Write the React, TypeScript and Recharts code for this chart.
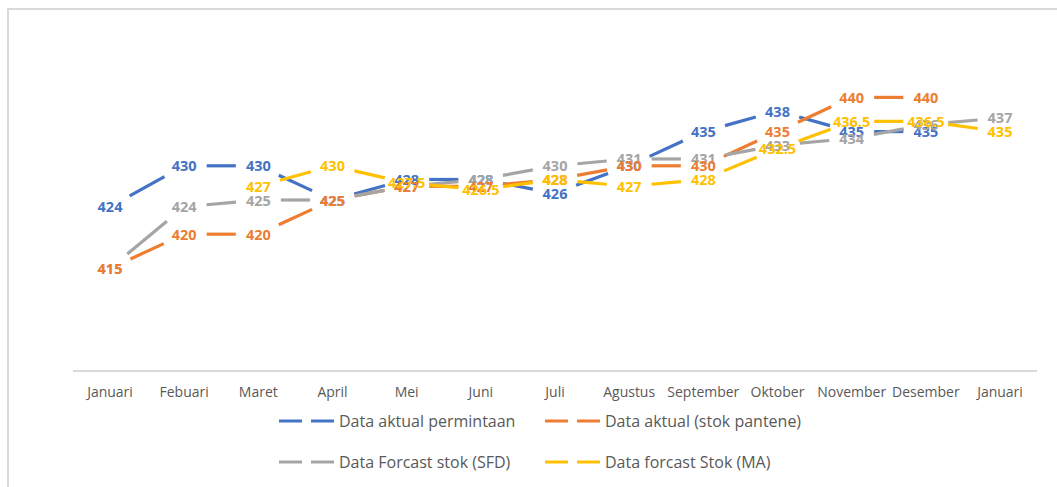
import { LineChart, Line, XAxis, YAxis, LabelList } from 'recharts'

const months = [
  'Januari', 'Febuari', 'Maret', 'April', 'Mei', 'Juni', 'Juli',
  'Agustus', 'September', 'Oktober', 'November', 'Desember', 'Januari',
]
const aktualPermintaan = [424, 430, 430, 425, 428, 428, 426, 430, 435, 438, 435, 435, null]
const aktualStok = [415, 420, 420, 425, 427, 427, 428, 430, 430, 435, 440, 440, null]
const forcastSfd = [415, 424, 425, 425, 427, 428, 430, 431, 431, 433, 434, 436, 437]
const forcastMa = [null, null, 427, 430, 427.5, 426.5, 428, 427, 428, 432.5, 436.5, 436.5, 435]

const series = [
  { key: 'permintaan', name: 'Data aktual permintaan', color: '#4472C4' },
  { key: 'stok', name: 'Data aktual (stok pantene)', color: '#ED7D31' },
  { key: 'sfd', name: 'Data Forcast stok (SFD)', color: '#A5A5A5' },
  { key: 'ma', name: 'Data forcast Stok (MA)', color: '#FFC000' },
]
// label drawing order (later ones sit on top)
const labelOrder = ['permintaan', 'sfd', 'stok', 'ma']

const data = months.map((month, i) => ({
  idx: `m${i}`,
  month,
  permintaan: aktualPermintaan[i],
  stok: aktualStok[i],
  sfd: forcastSfd[i],
  ma: forcastMa[i],
}))

const FONT = '"Open Sans", sans-serif'
const GAP = 22.5

// Excel long-dash look: one dash per segment, gap around each point
const segmentDot = (color: string) => (props: any) => {
  const { index, points, cx, cy } = props
  const next = points?.[index + 1]
  const k = `seg-${color}-${index}`
  if (cx == null || cy == null || !next || next.x == null || next.y == null) return <g key={k} />
  const dx = next.x - cx
  const dy = next.y - cy
  const len = Math.hypot(dx, dy)
  if (len <= GAP * 2) return <g key={k} />
  const ux = dx / len
  const uy = dy / len
  return (
    <line
      key={k}
      x1={cx + ux * GAP}
      y1={cy + uy * GAP}
      x2={next.x - ux * GAP}
      y2={next.y - uy * GAP}
      stroke={color}
      strokeWidth={3.2}
    />
  )
}

const valueLabel = (color: string) => (props: any) => {
  const { x, y, value, index } = props
  if (value == null || y == null) return null
  return (
    <text
      key={`lbl-${color}-${index}`}
      x={x}
      y={y}
      textAnchor="middle"
      dominantBaseline="central"
      fill={color}
      fontSize={14.5}
      fontWeight={700}
      fontFamily={FONT}
    >
      {value}
    </text>
  )
}

function LegendItem({ x, y, color, name }: { x: number; y: number; color: string; name: string }) {
  return (
    <div style={{ position: 'absolute', left: x, top: y - 11, height: 22, display: 'flex', alignItems: 'center' }}>
      <svg width={56} height={4} style={{ marginRight: 4 }}>
        <line x1={0} y1={2} x2={23} y2={2} stroke={color} strokeWidth={3} />
        <line x1={32} y1={2} x2={55} y2={2} stroke={color} strokeWidth={3} />
      </svg>
      <span style={{ fontFamily: FONT, fontSize: 16, color: '#595959', whiteSpace: 'nowrap' }}>{name}</span>
    </div>
  )
}

export default function App() {
  return (
    <div style={{ position: 'absolute', left: 0, top: 0, width: 1057, height: 487, overflow: 'hidden', background: '#fff' }}>
      <div
        style={{
          position: 'absolute',
          left: 7,
          top: 8,
          width: 1200,
          height: 600,
          borderTop: '2px solid #d9d9d9',
          borderLeft: '2px solid #d9d9d9',
        }}
      />
      <div style={{ position: 'absolute', left: 0, top: 0 }}>
        <LineChart width={1057} height={487} data={data} margin={{ top: 29, right: 20, bottom: 86, left: 73 }}>
          <XAxis
            dataKey="idx"
            type="category"
            padding={{ left: 37, right: 37 }}
            interval={0}
            tickLine={false}
            tickMargin={10}
            height={30}
            tickFormatter={(v: string) => months[Number(String(v).slice(1))]}
            axisLine={{ stroke: '#d9d9d9', strokeWidth: 2 }}
            tick={{ fill: '#595959', fontSize: 14, fontFamily: FONT }}
          />
          <YAxis hide type="number" domain={[400, 450]} />
          {series.map((s) => (
            <Line
              key={s.key}
              dataKey={s.key}
              name={s.name}
              stroke="none"
              dot={segmentDot(s.color)}
              activeDot={false}
              isAnimationActive={false}
              legendType="none"
            />
          ))}
          {labelOrder.map((k) => {
            const s = series.find((d) => d.key === k)!
            return (
              <Line
                key={`lbl-${k}`}
                dataKey={k}
                stroke="none"
                dot={false}
                activeDot={false}
                isAnimationActive={false}
                legendType="none"
              >
                <LabelList dataKey={k} content={valueLabel(s.color)} />
              </Line>
            )
          })}
        </LineChart>
      </div>
      <LegendItem x={279} y={421} color={series[0].color} name={series[0].name} />
      <LegendItem x={545} y={421} color={series[1].color} name={series[1].name} />
      <LegendItem x={279} y={462} color={series[2].color} name={series[2].name} />
      <LegendItem x={545} y={462} color={series[3].color} name={series[3].name} />
    </div>
  )
}
